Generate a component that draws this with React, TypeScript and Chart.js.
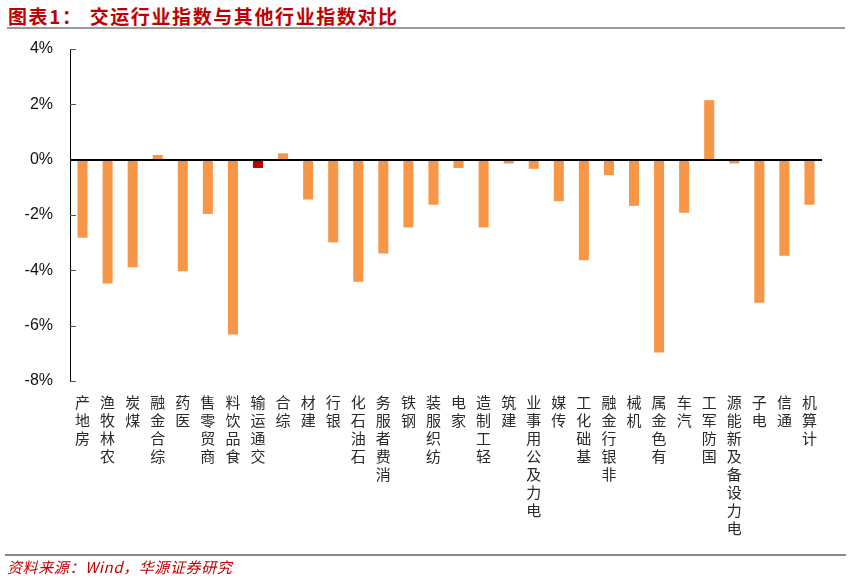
import React, { useEffect, useRef } from 'react';
import { Chart, registerables } from 'chart.js';
Chart.register(...registerables);

const categories = ['房地产', '农林牧渔', '煤炭', '综合金融', '医药', '商贸零售', '食品饮料', '交通运输', '综合', '建材', '银行', '石油石化', '消费者服务', '钢铁', '纺织服装', '家电', '轻工制造', '建筑', '电力及公用事业', '传媒', '基础化工', '非银行金融', '机械', '有色金属', '汽车', '国防军工', '电力设备及新能源', '电子', '通信', '计算机'];
const values = [-2.82, -4.48, -3.89, 0.17, -4.03, -1.96, -6.32, -0.30, 0.23, -1.44, -2.99, -4.41, -3.39, -2.45, -1.63, -0.30, -2.45, -0.14, -0.33, -1.50, -3.64, -0.56, -1.67, -6.97, -1.92, 2.15, -0.14, -5.17, -3.47, -1.63];
const highlight = '交通运输';
const yMin = -8;
const yMax = 4;
const yStep = 2;

const title = '图表1：';
const titleText = '交运行业指数与其他行业指数对比';
const source = '资料来源：Wind，华源证券研究';

const axisPlugin = {
  id: 'innerTicksZero',
  afterDatasetsDraw(chart: any) {
    const { ctx, chartArea, scales } = chart;
    const y = scales.y;
    ctx.save();
    ctx.strokeStyle = '#555555';
    ctx.lineWidth = 1;
    for (const t of y.ticks) {
      const py = Math.round(y.getPixelForValue(t.value)) + 0.5;
      ctx.beginPath();
      ctx.moveTo(chartArea.left, py);
      ctx.lineTo(chartArea.left + 6, py);
      ctx.stroke();
    }
    const z = Math.round(y.getPixelForValue(0));
    ctx.strokeStyle = '#000000';
    ctx.lineWidth = 2;
    ctx.beginPath();
    ctx.moveTo(chartArea.left, z);
    ctx.lineTo(chartArea.right, z);
    ctx.stroke();
    ctx.restore();
  },
};

export default function App() {
  const ref = useRef<HTMLCanvasElement>(null);
  useEffect(() => {
    document.body.style.margin = '0';
    const chart = new Chart(ref.current as HTMLCanvasElement, {
      type: 'bar',
      data: {
        labels: categories.map((c) => Array.from(c).reverse()),
        datasets: [
          {
            data: values,
            backgroundColor: categories.map((c) => (c === highlight ? '#C00000' : '#F79646')),
            barPercentage: 0.4,
            categoryPercentage: 1,
          },
        ],
      },
      options: {
        responsive: false,
        animation: false,
        layout: { padding: { top: 49, right: 28, left: 0, bottom: 0 } },
        plugins: { legend: { display: false }, tooltip: { enabled: false } },
        scales: {
          x: {
            grid: { display: false },
            border: { display: false },
            ticks: {
              autoSkip: false,
              maxRotation: 0,
              minRotation: 0,
              padding: 4,
              color: '#2a2a2a',
              font: { family: '"Noto Sans CJK SC", sans-serif', size: 15, lineHeight: 1.2 },
            },
            afterFit: (s: any) => {
              s.height = 199;
            },
          },
          y: {
            min: yMin,
            max: yMax,
            ticks: {
              stepSize: yStep,
              padding: 17,
              color: '#111111',
              font: { family: '"Liberation Sans", Arial, sans-serif', size: 16 },
              callback: (v: any) => `${v}%`,
            },
            grid: { display: true, drawOnChartArea: false, drawTicks: false },
            border: { display: true, color: '#000000', width: 1 },
            afterFit: (s: any) => {
              s.width = 70;
            },
          },
        },
      },
      plugins: [axisPlugin],
    });
    return () => chart.destroy();
  }, []);

  return (
    <div style={{ position: 'fixed', left: 0, top: 0, width: 850, height: 580, background: '#fff' }}>
      <div
        style={{
          position: 'absolute',
          left: 8,
          top: 6,
          fontFamily: '"Noto Sans CJK SC", sans-serif',
          fontWeight: 'bold',
          fontSize: 19,
          lineHeight: '19px',
          color: '#C00000',
          whiteSpace: 'nowrap',
          letterSpacing: '1.6px',
        }}
      >
        <span>{title}</span>
        <span style={{ marginLeft: 7 }}>{titleText}</span>
      </div>
      <div style={{ position: 'absolute', left: 7, top: 27, width: 838, height: 2, background: '#9a9a9a' }} />
      <canvas ref={ref} width={850} height={580} style={{ position: 'absolute', left: 0, top: 0 }} />
      <div style={{ position: 'absolute', left: 5, top: 554, width: 841, height: 2, background: '#8a8a8a' }} />
      <div
        style={{
          position: 'absolute',
          left: 7,
          top: 559,
          fontFamily: '"Noto Sans CJK SC", sans-serif',
          fontStyle: 'italic',
          fontSize: 15,
          lineHeight: '15px',
          color: '#C00000',
          whiteSpace: 'nowrap',
          letterSpacing: '0.6px',
        }}
      >
        {source}
      </div>
    </div>
  );
}
